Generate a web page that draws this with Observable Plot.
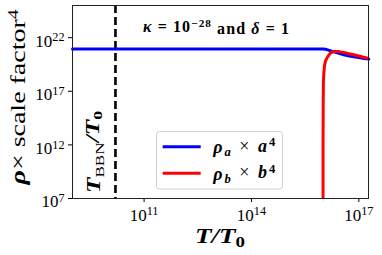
<!DOCTYPE html>
<html><head><meta charset="utf-8">
<script src="https://cdn.jsdelivr.net/npm/d3@7"></script>
<script src="https://cdn.jsdelivr.net/npm/@observablehq/plot@0.6"></script>
<style>
html,body{margin:0;padding:0;background:#fff;}
#chart{position:relative;width:382px;height:255px;}
</style></head><body><div id="chart"></div>
<script>
// tick values
const xTicks = [1e11, 1e14, 1e17];
const yTicks = [1e7, 1e12, 1e17, 1e22];
// T_BBN / T_0 (log10)
const logTBBN = 10.2;
// blue series: rho_a * a^4  (log10 values)
const blueLogT   = [9.0, 16.0, 16.07, 16.15, 16.25, 16.35, 16.45, 16.58, 16.7, 16.86, 17.0, 17.15, 17.28];
const blueLogRho = [20.94, 20.94, 20.92, 20.84, 20.73, 20.63, 20.53, 20.41, 20.32, 20.22, 20.14, 20.06, 20.0];
// red series: rho_b * b^4
const redLogT   = [16.0, 16.0, 16.005, 16.01, 16.02, 16.04, 16.07, 16.12, 16.17, 16.21, 16.28, 16.35, 16.45, 16.58, 16.7, 16.86, 17.0, 17.1, 17.2, 17.28];
const redLogRho = [5, 12, 16, 17.8, 18.6, 19.38, 19.85, 20.16, 20.4, 20.57, 20.68, 20.72, 20.7, 20.63, 20.53, 20.41, 20.29, 20.2, 20.13, 20.07];

const blue = blueLogT.map((t, i) => ({t: 10 ** t, rho: 10 ** blueLogRho[i]}));
const red = redLogT.map((t, i) => ({t: 10 ** t, rho: 10 ** redLogRho[i]}));
const tBBN = 10 ** logTBBN;
const fmt = d => "10^" + Math.round(Math.log10(d));

const plot = Plot.plot({
  width: 382, height: 255,
  marginLeft: 72, marginRight: 14, marginTop: 5, marginBottom: 57,
  style: {fontFamily: "'Liberation Serif', serif", fontSize: "17px", background: "white", color: "#000"},
  x: {type: "log", domain: [1e9, 10 ** 17.27]},
  y: {type: "log", domain: [1e7, 1e25]},
  marks: [
    Plot.axisX({ticks: xTicks, tickSize: 4, tickPadding: 6, tickFormat: fmt, label: null}),
    Plot.axisY({ticks: yTicks, tickSize: 4, tickPadding: 4, tickFormat: fmt, label: null}),
    Plot.ruleX([tBBN], {stroke: "black", strokeWidth: 2.6, strokeDasharray: "8,4"}),
    Plot.line(blue, {x: "t", y: "rho", stroke: "#0000ff", strokeWidth: 3}),
    Plot.line(red, {x: "t", y: "rho", stroke: "#ff0000", strokeWidth: 3, clip: true}),
    Plot.frame({stroke: "#222", strokeWidth: 1})
  ]
});

const NS = "http://www.w3.org/2000/svg";
function el(tag, attrs, parent) {
  const e = document.createElementNS(NS, tag);
  for (const k in attrs) e.setAttribute(k, attrs[k]);
  if (parent) parent.appendChild(e);
  return e;
}
function ts(parent, text, attrs = {}) {
  const t = el("tspan", attrs, parent);
  t.textContent = text;
  return t;
}

// superscript tick labels
plot.querySelectorAll('g[aria-label="x-axis tick label"] text, g[aria-label="y-axis tick label"] text').forEach(t => {
  const m = t.textContent.match(/^10\^(-?\d+)$/);
  if (!m) return;
  t.textContent = "";
  ts(t, "10");
  ts(t, m[1], {dy: "-0.42em", "font-size": "0.72em"});
});
plot.querySelectorAll('g[aria-label="y-axis tick label"] text').forEach(t => t.setAttribute("y", "0.52em"));

const sx = plot.scale("x"), sy = plot.scale("y");
const g = el("g", {"font-family": "'Liberation Serif', serif", fill: "black", "text-anchor": "start"}, plot);

// y label
const yl = el("text", {transform: "translate(25,97) rotate(-90)", "text-anchor": "middle", "font-size": "22", textLength: 175, lengthAdjust: "spacingAndGlyphs"}, g);
ts(yl, "ρ", {"font-weight": "bold", "font-style": "italic"});
ts(yl, "× scale factor");
ts(yl, "4", {dy: "-0.45em", "font-size": "0.7em"});

// x label
const xl = el("text", {x: 220, y: 243, "text-anchor": "middle", "font-size": "21", "font-weight": "bold", "font-style": "italic", textLength: 50, lengthAdjust: "spacingAndGlyphs"}, g);
ts(xl, "T/T");
ts(xl, "0", {dy: "0.25em", "font-size": "0.7em", "font-style": "normal"});

// T_BBN label next to dashed line
const bx = sx.apply(tBBN) - 14.5;
const bl = el("text", {transform: `translate(${bx},193) rotate(-90)`, "text-anchor": "start", "font-size": "18", textLength: 82, lengthAdjust: "spacingAndGlyphs"}, g);
ts(bl, "T", {"font-weight": "bold", "font-style": "italic"});
ts(bl, "BBN", {dy: "0.28em", "font-size": "0.68em"});
ts(bl, "/T", {dy: "-0.28em", "font-weight": "bold", "font-style": "italic"});
ts(bl, "0", {dy: "0.28em", "font-size": "0.7em", "font-weight": "bold"});

// annotation
const an = el("text", {x: 143, y: 31.7, "font-size": "16", "font-weight": "bold", textLength: 146, lengthAdjust: "spacing"}, g);
ts(an, "κ", {"font-style": "italic"});
ts(an, " = 10");
ts(an, "−28", {dy: "-0.45em", "font-size": "0.7em"});
ts(an, " and ", {dy: "0.45em"});
ts(an, "δ", {"font-style": "italic"});
ts(an, " = 1");

// legend
el("rect", {x: 156.5, y: 131.5, width: 126, height: 57.5, rx: 3, fill: "white", "fill-opacity": 0.8, stroke: "#d0d0d0", "stroke-width": 1}, g);
const items = [
  {color: "#0000ff", sub: "a", v: "a", y: 146.7},
  {color: "#ff0000", sub: "b", v: "b", y: 173.3}
];
for (const it of items) {
  el("line", {x1: 162.7, x2: 200.7, y1: it.y, y2: it.y, stroke: it.color, "stroke-width": 3}, g);
  const t = el("text", {x: 213.3, y: it.y + 6.3, "font-size": "18", textLength: 62, lengthAdjust: "spacing"}, g);
  ts(t, "ρ", {"font-weight": "bold", "font-style": "italic"});
  ts(t, it.sub, {dy: "0.25em", "font-size": "0.7em", "font-weight": "bold", "font-style": "italic"});
  ts(t, " × ", {dy: "-0.25em"});
  ts(t, it.v, {"font-weight": "bold", "font-style": "italic"});
  ts(t, "4", {dy: "-0.42em", "font-size": "0.7em", "font-weight": "bold"});
}

document.getElementById("chart").appendChild(plot);
</script>
</body></html>
